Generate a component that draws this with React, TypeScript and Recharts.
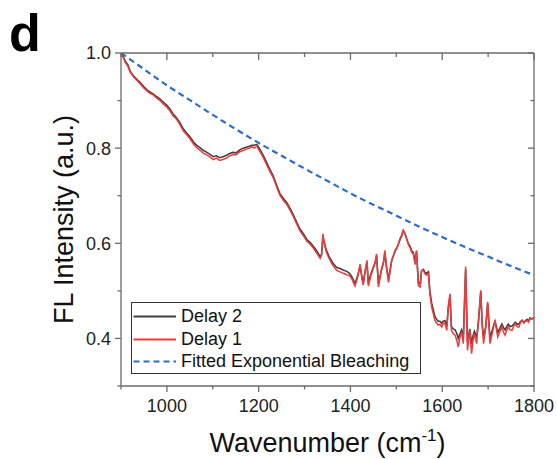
import React from "react";
import { LineChart, Line, XAxis, YAxis, Legend } from "recharts";

// ---------- data ----------
const wavenumbers = [
  900, 905, 909, 915, 920, 927, 935, 942, 950, 956, 963, 970, 978, 985, 992,
  1000, 1007, 1014, 1020, 1028, 1036, 1043, 1050, 1058, 1065, 1072, 1080, 1087,
  1094, 1101, 1108, 1115, 1122, 1130, 1137, 1144, 1151, 1158, 1166, 1173, 1180,
  1185, 1190, 1196, 1200, 1207, 1214, 1222, 1232, 1240, 1246, 1254, 1261, 1268,
  1275, 1283, 1290, 1298, 1305, 1312, 1319, 1326, 1334, 1337, 1340, 1344, 1348,
  1355, 1362, 1370, 1377, 1384, 1392, 1398, 1403, 1410, 1416, 1421, 1425, 1428,
  1432, 1436, 1439, 1444, 1450, 1454, 1457, 1461, 1465, 1468, 1472, 1475, 1479,
  1483, 1487, 1490, 1494, 1497, 1501, 1504, 1508, 1512, 1515, 1519, 1522, 1526,
  1530, 1534, 1537, 1541, 1544, 1548, 1552, 1555, 1559, 1563, 1566, 1570, 1573,
  1577, 1581, 1584, 1588, 1591, 1595, 1599, 1602, 1606, 1610, 1613, 1617, 1620,
  1624, 1628, 1632, 1635, 1638, 1642, 1646, 1651, 1655, 1660, 1664, 1667, 1670,
  1675, 1679, 1684, 1687, 1690, 1695, 1699, 1704, 1709, 1715, 1718, 1721, 1726,
  1730, 1734, 1737, 1741, 1744, 1748, 1752, 1756, 1759, 1763, 1767, 1770, 1774,
  1778, 1781, 1785, 1788, 1791, 1795, 1800,
];

const delay1 = [
  1.0, 0.99, 0.981, 0.972, 0.96, 0.95, 0.942, 0.935, 0.926, 0.921, 0.915, 0.912, 0.905, 0.9, 0.893,
  0.886, 0.878, 0.867, 0.862, 0.85, 0.836, 0.828, 0.82, 0.808, 0.801, 0.796, 0.789, 0.786,
  0.781, 0.776, 0.779, 0.774, 0.776, 0.779, 0.784, 0.786, 0.786, 0.792, 0.795, 0.798, 0.8,
  0.803, 0.8, 0.804, 0.797, 0.786, 0.772, 0.756, 0.737, 0.716, 0.701, 0.69, 0.682, 0.67,
  0.657, 0.64, 0.626, 0.615, 0.604, 0.598, 0.59, 0.58, 0.568, 0.575, 0.62, 0.595, 0.58,
  0.565, 0.553, 0.543, 0.54, 0.537, 0.534, 0.532, 0.525, 0.51, 0.53, 0.556, 0.525, 0.512,
  0.54, 0.564, 0.51, 0.53, 0.548, 0.56, 0.578, 0.508, 0.53, 0.545, 0.56, 0.585, 0.545,
  0.518, 0.545, 0.565, 0.575, 0.585, 0.59, 0.597, 0.61, 0.618, 0.628, 0.62, 0.61, 0.598,
  0.59, 0.58, 0.578, 0.555, 0.585, 0.511, 0.508, 0.543, 0.543, 0.535, 0.533, 0.536, 0.494,
  0.466, 0.45, 0.438, 0.432, 0.428, 0.43, 0.424, 0.432, 0.431, 0.417, 0.466, 0.494, 0.417,
  0.41, 0.407, 0.395, 0.382, 0.4, 0.414, 0.389, 0.551, 0.375, 0.417, 0.368, 0.395, 0.41,
  0.389, 0.438, 0.501, 0.43, 0.389, 0.424, 0.477, 0.389, 0.41, 0.438, 0.42, 0.403, 0.415,
  0.424, 0.412, 0.407, 0.418, 0.424, 0.418, 0.417, 0.426, 0.431, 0.425, 0.424, 0.432, 0.438,
  0.432, 0.436, 0.438, 0.434, 0.442, 0.44, 0.443,
];

const delay2 = [
  1.0, 0.992, 0.983, 0.975, 0.962, 0.952, 0.944, 0.938, 0.929, 0.923, 0.918, 0.914, 0.908, 0.903, 0.897,
  0.89, 0.882, 0.871, 0.865, 0.854, 0.84, 0.832, 0.824, 0.813, 0.806, 0.801, 0.795, 0.791,
  0.787, 0.782, 0.784, 0.78, 0.782, 0.785, 0.789, 0.791, 0.79, 0.796, 0.8, 0.802, 0.804,
  0.806, 0.806, 0.808, 0.802, 0.79, 0.777, 0.76, 0.741, 0.72, 0.705, 0.694, 0.686, 0.674,
  0.661, 0.644, 0.63, 0.619, 0.608, 0.602, 0.594, 0.585, 0.572, 0.576, 0.612, 0.598, 0.584,
  0.569, 0.558, 0.549, 0.547, 0.544, 0.541, 0.537, 0.53, 0.515, 0.533, 0.552, 0.53, 0.517,
  0.542, 0.56, 0.516, 0.534, 0.55, 0.56, 0.574, 0.514, 0.533, 0.546, 0.56, 0.58, 0.548,
  0.524, 0.547, 0.564, 0.575, 0.583, 0.59, 0.597, 0.608, 0.616, 0.626, 0.62, 0.611, 0.6,
  0.593, 0.583, 0.581, 0.56, 0.583, 0.518, 0.515, 0.542, 0.545, 0.538, 0.537, 0.54, 0.5,
  0.474, 0.458, 0.446, 0.44, 0.436, 0.436, 0.432, 0.436, 0.437, 0.426, 0.462, 0.49, 0.425,
  0.42, 0.418, 0.41, 0.4, 0.408, 0.418, 0.402, 0.545, 0.392, 0.42, 0.388, 0.405, 0.415,
  0.402, 0.436, 0.498, 0.432, 0.402, 0.425, 0.474, 0.402, 0.417, 0.436, 0.425, 0.412, 0.422,
  0.43, 0.422, 0.418, 0.426, 0.43, 0.425, 0.426, 0.43, 0.434, 0.43, 0.43, 0.435, 0.438,
  0.434, 0.437, 0.44, 0.436, 0.443, 0.441, 0.444,
];

const fitWavenumbers = [
  900, 950, 1000, 1050, 1100, 1150, 1200, 1250, 1300, 1350, 1400, 1450, 1500,
  1550, 1600, 1650, 1700, 1750, 1800,
];
const fitValues = [
  1.0, 0.966, 0.932, 0.901, 0.87, 0.84, 0.811, 0.784, 0.757, 0.731, 0.705,
  0.681, 0.658, 0.635, 0.613, 0.592, 0.572, 0.552, 0.533,
];

const xDomain = [900, 1800];
const yDomain = [0.3, 1.0];
const xTicks = [900, 1000, 1100, 1200, 1300, 1400, 1500, 1600, 1700, 1800];
const yTicks = [0.3, 0.4, 0.5, 0.6, 0.7, 0.8, 0.9, 1.0];

const seriesNames = ["Delay 2", "Delay 1", "Fitted Exponential Bleaching"];

const spectrumData = wavenumbers.map((w, i) => ({ w, d1: delay1[i], d2: delay2[i] }));
const fitData = fitWavenumbers.map((w, i) => ({ w, fit: fitValues[i] }));

// ---------- layout & styles ----------
const CHART_W = 557;
const CHART_H = 459;
const MARGIN = { top: 53, right: 23, left: 0, bottom: 0 };
const PLOT_TOP = MARGIN.top;
const PLOT_RIGHT = CHART_W - MARGIN.right;

const FONT = "'Liberation Sans', Arial, Helvetica, sans-serif";
const AXIS_COLOR = "#6a6a6a";
const GRAY = "#404040";
const RED = "#ee3b3b";
const BLUE = "#2a6dca";
const SW = 1.3;

const isMajorY = (v: number) => Math.round(v * 10) % 2 === 0;
const isMajorX = (v: number) => v % 200 === 0;

// Left axis tick (outward) + matching inward tick on the right frame edge;
// the top value also draws the top frame edge.
const LeftTick = (props: any) => {
  const { x, y, payload } = props;
  const v = payload.value;
  const major = isMajorY(v);
  const isTop = Math.abs(v - yDomain[1]) < 1e-9;
  return (
    <g>
      <line x1={x} y1={y} x2={x - (major ? 6 : 3.5)} y2={y} stroke={AXIS_COLOR} strokeWidth={SW} />
      <line x1={PLOT_RIGHT} y1={y} x2={PLOT_RIGHT - (major ? 6 : 3.5)} y2={y} stroke={AXIS_COLOR} strokeWidth={SW} />
      {isTop && <line x1={x} y1={y} x2={PLOT_RIGHT} y2={y} stroke={AXIS_COLOR} strokeWidth={SW} />}
      {major && (
        <text x={x - 10} y={y} dy="0.36em" textAnchor="end" fontSize={18} fontFamily={FONT} fill="#222">
          {v.toFixed(1)}
        </text>
      )}
    </g>
  );
};

// Bottom axis tick (outward) + matching inward tick on the top frame edge;
// the last value also draws the right frame edge.
const BottomTick = (props: any) => {
  const { x, y, payload } = props;
  const v = payload.value;
  const major = isMajorX(v);
  const isRight = v === xDomain[1];
  return (
    <g>
      <line x1={x} y1={y} x2={x} y2={y + (major ? 6 : 3.5)} stroke={AXIS_COLOR} strokeWidth={SW} />
      <line x1={x} y1={PLOT_TOP} x2={x} y2={PLOT_TOP + (major ? 7 : 4)} stroke={AXIS_COLOR} strokeWidth={SW} />
      {isRight && <line x1={x} y1={PLOT_TOP} x2={x} y2={y} stroke={AXIS_COLOR} strokeWidth={SW} />}
      {major && (
        <text x={x} y={y + 26} textAnchor="middle" fontSize={18} fontFamily={FONT} fill="#222">
          {v}
        </text>
      )}
    </g>
  );
};

const YLabel = (props: any) => {
  const vb = props.viewBox || { x: 0, y: 53, width: 121, height: 333 };
  const cx = vb.x + 73;
  const cy = vb.y + vb.height / 2;
  return (
    <text
      x={cx}
      y={cy}
      transform={`rotate(-90, ${cx}, ${cy})`}
      textAnchor="middle"
      fontSize={27}
      fontFamily={FONT}
      fill="#111"
    >
      FL Intensity (a.u.)
    </text>
  );
};

const XLabel = (props: any) => {
  const vb = props.viewBox || { x: 121, y: 386, width: 413, height: 73 };
  const cx = vb.x + vb.width / 2;
  const cy = vb.y + 66;
  return (
    <text x={cx} y={cy} textAnchor="middle" fontSize={27} fontFamily={FONT} fill="#111">
      <tspan>Wavenumber (cm</tspan>
      <tspan fontSize={17} dy={-11}>-1</tspan>
      <tspan dy={11}>)</tspan>
    </text>
  );
};

const legendItems = [
  { name: seriesNames[0], color: GRAY, dash: undefined as string | undefined },
  { name: seriesNames[1], color: RED, dash: undefined as string | undefined },
  { name: seriesNames[2], color: BLUE, dash: "6 4" },
];

const LegendBox = () => (
  <div
    style={{
      position: "relative",
      width: 290,
      height: 72,
      boxSizing: "border-box",
      border: "1.3px solid #333",
      background: "#fff",
      fontFamily: FONT,
      fontSize: 18,
      color: "#111",
    }}
  >
    {legendItems.map((it, i) => (
      <div
        key={it.name}
        style={{ position: "absolute", left: 0, top: 2.5 + i * 22.7, height: 22.7, width: 288 }}
      >
        <svg width={46} height={22.7} style={{ position: "absolute", left: 0, top: 0 }}>
          <line x1={1.5} y1={11.5} x2={44} y2={11.5} stroke={it.color} strokeWidth={2} strokeDasharray={it.dash} />
        </svg>
        <span style={{ position: "absolute", left: 49.5, top: 0, lineHeight: "22.7px", whiteSpace: "nowrap" }}>
          {it.name}
        </span>
      </div>
    ))}
  </div>
);

export default function App() {
  return (
    <div style={{ position: "absolute", left: 0, top: 0, width: CHART_W, height: CHART_H, background: "#fff" }}>
      <LineChart width={CHART_W} height={CHART_H} data={spectrumData} margin={MARGIN}>
        <XAxis
          dataKey="w"
          type="number"
          domain={xDomain}
          ticks={xTicks}
          interval={0}
          allowDataOverflow
          height={73}
          tickSize={0}
          tickMargin={0}
          tickLine={false}
          axisLine={{ stroke: AXIS_COLOR, strokeWidth: SW }}
          tick={BottomTick}
          label={<XLabel />}
        />
        <YAxis
          type="number"
          domain={yDomain}
          ticks={yTicks}
          interval={0}
          allowDataOverflow
          width={121}
          tickSize={0}
          tickMargin={0}
          tickLine={false}
          axisLine={{ stroke: AXIS_COLOR, strokeWidth: SW }}
          tick={LeftTick}
          label={<YLabel />}
        />
        <Line
          dataKey="d2"
          name={seriesNames[0]}
          type="linear"
          stroke={GRAY}
          strokeWidth={1.6}
          dot={false}
          isAnimationActive={false}
        />
        <Line
          dataKey="d1"
          name={seriesNames[1]}
          type="linear"
          stroke={RED}
          strokeWidth={1.5}
          dot={false}
          isAnimationActive={false}
        />
        <Line
          data={fitData}
          dataKey="fit"
          name={seriesNames[2]}
          type="monotone"
          stroke={BLUE}
          strokeWidth={2.2}
          strokeDasharray="6 4"
          dot={false}
          isAnimationActive={false}
        />
        <Legend
          layout="horizontal"
          verticalAlign="middle"
          align="center"
          content={<LegendBox />}
          wrapperStyle={{ position: "absolute", left: 130.5, top: 301.5, width: 290, height: 72, bottom: "auto", right: "auto" }}
        />
      </LineChart>
      <svg width={80} height={70} style={{ position: "absolute", left: 0, top: 0, pointerEvents: "none" }}>
        <text x={9} y={50.5} fontSize={52} fontWeight="bold" fontFamily={FONT} fill="#000">
          d
        </text>
      </svg>
    </div>
  );
}
